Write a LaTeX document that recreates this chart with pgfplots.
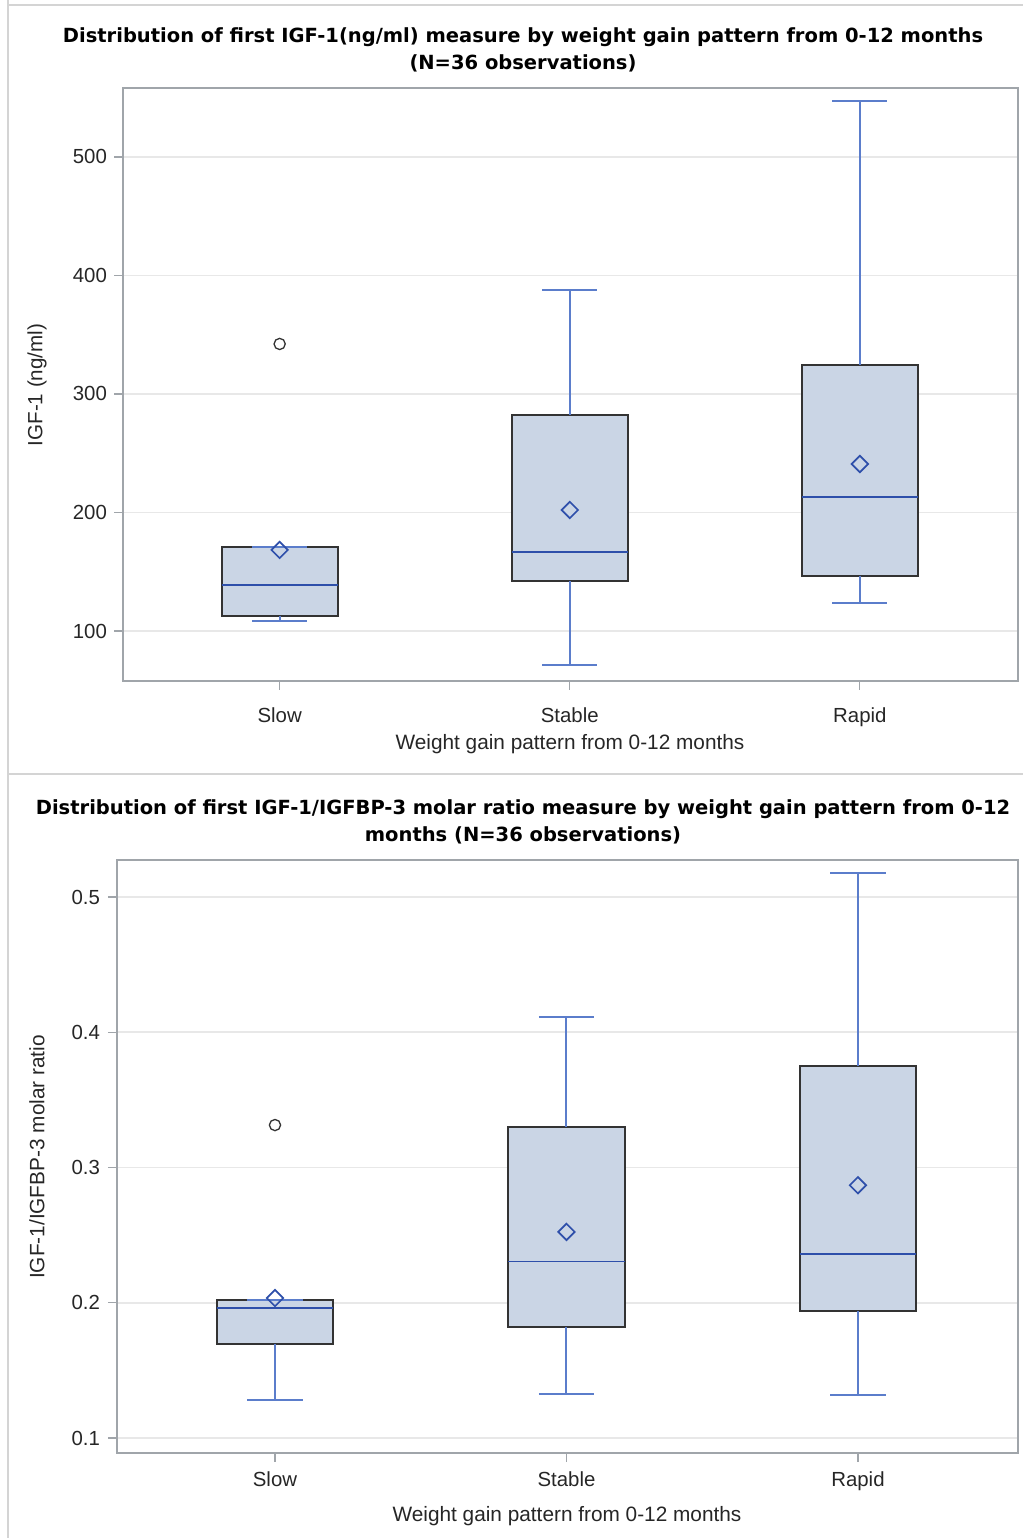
\documentclass[border=0pt]{standalone}
\usepackage{fontspec}
\setmainfont{Liberation Sans}
\newfontfamily\titlefont{DejaVu Sans}
\usepackage{pgfplots}
\pgfplotsset{compat=1.18}

\definecolor{boxfill}{HTML}{CAD5E5}
\definecolor{boxedge}{HTML}{333333}
\definecolor{whiskblue}{HTML}{5B7DCB}
\definecolor{medblue}{HTML}{2E4FAA}
\definecolor{axisgray}{HTML}{A0A5AA}
\definecolor{gridgray}{HTML}{E8E8E8}
\definecolor{framegray}{HTML}{D4D4D4}

\pgfplotsset{
  boxst/.style={draw=boxedge, fill=boxfill, line width=0.95pt, mark=none},
  whiskst/.style={draw=whiskblue, line width=1pt, mark=none},
  medst/.style={draw=medblue, line width=0.85pt, mark=none},
  sasaxis/.style={
    scale only axis,
    anchor=south west,
    xmin=-0.54, xmax=2.545,
    xtick={0,1,2},
    xticklabels={Slow,Stable,Rapid},
    xtick pos=bottom, ytick pos=left,
    tick align=outside,
    major tick length=4.5pt,
    tick style={axisgray, line width=0.6pt},
    axis line style={axisgray, line width=0.8pt},
    ymajorgrids,
    grid style={gridgray, line width=0.8pt},
    tick label style={font=\fontsize{10.2}{12}\selectfont, text=black!85},
    /pgf/number format/assume math mode=true,
    clip=false,
  },
  meanmark/.style={only marks, mark=square, mark size=2.9pt,
    mark options={rotate=45, draw=medblue, fill=none, line width=0.85pt}},
  outlier/.style={only marks, mark=o, mark size=2.8pt,
    mark options={draw=black!80, line width=0.65pt}},
}

% one box: position, lower whisker, lower quartile, median, upper quartile, upper whisker
\newcommand\sasbox[6]{%
  \pgfmathsetmacro\bl{#1-0.2}\pgfmathsetmacro\br{#1+0.2}%
  \pgfmathsetmacro\cl{#1-0.095}\pgfmathsetmacro\cr{#1+0.095}%
  \edef\tmp{%
    \noexpand\addplot[boxst] coordinates {(\bl,#3) (\br,#3) (\br,#5) (\bl,#5)} --cycle;
    \noexpand\addplot[medst] coordinates {(\bl,#4) (\br,#4)};
    \noexpand\addplot[whiskst] coordinates {(#1,#5) (#1,#6)};
    \noexpand\addplot[whiskst] coordinates {(\cl,#6) (\cr,#6)};
    \noexpand\addplot[whiskst] coordinates {(#1,#3) (#1,#2)};
    \noexpand\addplot[whiskst] coordinates {(\cl,#2) (\cr,#2)};
  }\tmp
}

\begin{document}
\begin{tikzpicture}
\path[use as bounding box] (0,0) rectangle (511.5pt,769pt);
% panel frame
\draw[framegray, line width=0.8pt] (4pt,769pt) -- (4pt,0) ;
\draw[framegray, line width=0.8pt] (4pt,766.5pt) -- (511.5pt,766.5pt);
\draw[framegray, line width=0.8pt] (4pt,382pt) -- (511.5pt,382pt);

% ---------- IGF-1 ----------
\node[font=\titlefont\bfseries\fontsize{9.75}{13.5}\selectfont, align=center]
  at (261.5pt,744.3pt) {Distribution of first IGF-1(ng/ml) measure by weight gain pattern from 0-12 months\\(N=36 observations)};
\begin{axis}[sasaxis,
  at={(61.5pt,428.5pt)}, width=447.5pt, height=296.5pt,
  ymin=57.8, ymax=558.2,
  ytick={100,200,300,400,500},
  xticklabel style={yshift=-5.5pt},
  yticklabel style={xshift=0pt},
]
\sasbox{0}{108.4}{112.7}{138.8}{170.9}{170.9}
\sasbox{1}{71.3}{142.2}{166.7}{282.3}{387.8}
\sasbox{2}{123.6}{146.4}{213.1}{324.5}{547.3}
\addplot[meanmark] coordinates {(0,168.4) (1,202.1) (2,240.9)};
\addplot[outlier] coordinates {(0,342.2)};
\end{axis}
\node[rotate=90, font=\fontsize{10.3}{12}\selectfont, text=black!85] at (18.5pt,576.5pt) {IGF-1 (ng/ml)};
\node[font=\fontsize{10.4}{12}\selectfont, text=black!85] at (285pt,397pt) {Weight gain pattern from 0-12 months};

% ---------- IGF-1/IGFBP-3 ----------
\node[font=\titlefont\bfseries\fontsize{9.75}{13.5}\selectfont, align=center]
  at (261.5pt,358.3pt) {Distribution of first IGF-1/IGFBP-3 molar ratio measure by weight gain pattern from 0-12\\months (N=36 observations)};
\begin{axis}[sasaxis,
  at={(58.5pt,42.5pt)}, width=450.5pt, height=296.5pt,
  xmin=-0.542, xmax=2.549,
  ymin=0.0889, ymax=0.5274,
  ytick={0.1,0.2,0.3,0.4,0.5},
  yticklabel style={xshift=-0.5pt, /pgf/number format/.cd, fixed, fixed zerofill, precision=1},
  xticklabel style={yshift=-1.5pt},
]
\sasbox{0}{0.1281}{0.1695}{0.1961}{0.2020}{0.2020}
\sasbox{1}{0.1322}{0.1820}{0.2306}{0.3300}{0.4115}
\sasbox{2}{0.1315}{0.1939}{0.2360}{0.3750}{0.5177}
\addplot[meanmark] coordinates {(0,0.2035) (1,0.2524) (2,0.2869)};
\addplot[outlier] coordinates {(0,0.3314)};
\end{axis}
\node[rotate=90, font=\fontsize{10.4}{12}\selectfont, text=black!85] at (18.5pt,190.5pt) {IGF-1/IGFBP-3 molar ratio};
\node[font=\fontsize{10.4}{12}\selectfont, text=black!85] at (283.5pt,11pt) {Weight gain pattern from 0-12 months};
\end{tikzpicture}
\end{document}
